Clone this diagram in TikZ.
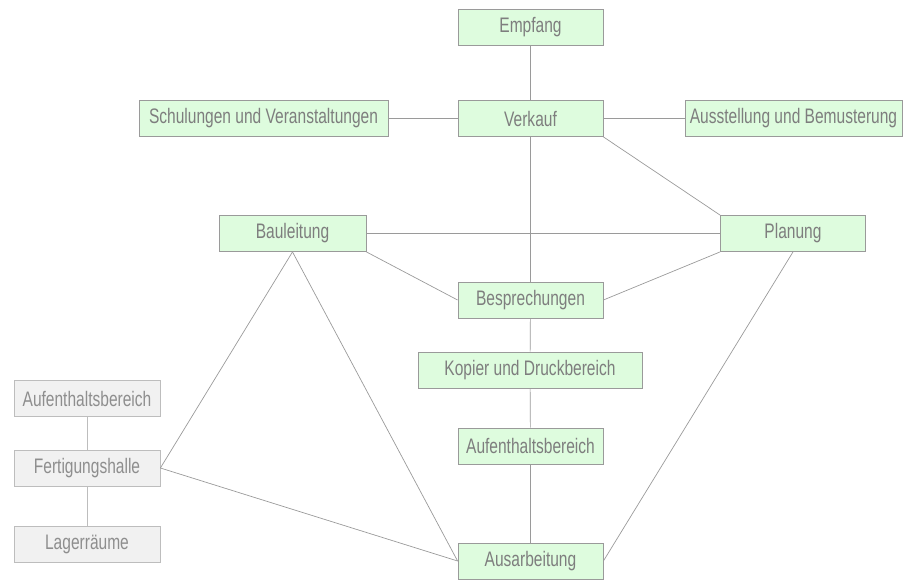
\documentclass[tikz,border=0pt]{standalone}
\usepackage{fontspec}
\setmainfont{Liberation Sans}[FakeStretch=0.74]
\definecolor{boxfill}{HTML}{DEFCDE}
\definecolor{boxdraw}{HTML}{9A9A9A}
\definecolor{txt}{HTML}{7E7E7E}
\definecolor{greyfill}{HTML}{F1F1F1}
\definecolor{greydraw}{HTML}{BDBDBD}
\definecolor{greytxt}{HTML}{8E8E8E}
\definecolor{linecol}{HTML}{9A9A9A}
\begin{document}
\begin{tikzpicture}[x=1pt,y=-1pt,
  room/.style={draw=boxdraw,fill=boxfill,text=txt,line width=0.8pt,minimum height=36pt,inner sep=0pt,font=\fontsize{21}{24}\selectfont},
  greyroom/.style={draw=greydraw,fill=greyfill,text=greytxt,line width=0.8pt,minimum height=36pt,inner sep=0pt,font=\fontsize{21}{24}\selectfont},
  link/.style={draw=linecol,line width=0.7pt},
  glink/.style={draw=greydraw,line width=0.8pt}]
\useasboundingbox (0,0) rectangle (903,579);
\node[room,minimum width=145pt] (empfang) at (530.5,27.5) {Empfang};
\node[room,minimum width=145pt] (verkauf) at (530.5,118.5) {Verkauf};
\node[room,minimum width=249pt] (schulung) at (263.5,118.5) {Schulungen und Veranstaltungen};
\node[room,minimum width=217pt] (ausstellung) at (793.5,118.5) {Ausstellung und Bemusterung};
\node[room,minimum width=145pt] (planung) at (793,233.5) {Planung};
\node[room,minimum width=147pt] (bauleitung) at (292.5,233.5) {Bauleitung};
\node[room,minimum width=145pt] (bespr) at (530.5,300) {Besprechungen};
\node[room,minimum width=224pt] (kopier) at (530,370) {Kopier und Druckbereich};
\node[room,minimum width=145pt] (aufg) at (530.5,446) {Aufenthaltsbereich};
\node[room,minimum width=145pt] (ausarb) at (530.5,561) {Ausarbeitung};
\node[greyroom,minimum width=146pt] (aufgrey) at (87,398.5) {Aufenthaltsbereich};
\node[greyroom,minimum width=146pt] (fertigung) at (87,468) {Fertigungshalle};
\node[greyroom,minimum width=146pt] (lager) at (87,544) {Lagerräume};
\draw[link] (empfang) -- (verkauf);
\draw[link] (schulung) -- (verkauf);
\draw[link] (verkauf) -- (ausstellung);
\draw[link] (verkauf.south east) -- (planung.north west);
\draw[link] (verkauf) -- (bespr);
\draw[link] (bauleitung) -- (planung);
\draw[link] (bauleitung.south east) -- (bespr.west);
\draw[link] (bespr.east) -- (planung.south west);
\draw[link] (bespr) -- (kopier);
\draw[link] (kopier) -- (aufg);
\draw[link] (aufg) -- (ausarb);
\draw[link] (bauleitung.south) -- (fertigung.east);
\draw[link] (bauleitung.south) -- (ausarb.west);
\draw[link] (fertigung.east) -- (ausarb.west);
\draw[link] (planung.south) -- (ausarb.east);
\draw[glink] (aufgrey) -- (fertigung);
\draw[glink] (fertigung) -- (lager);
\end{tikzpicture}
\end{document}
